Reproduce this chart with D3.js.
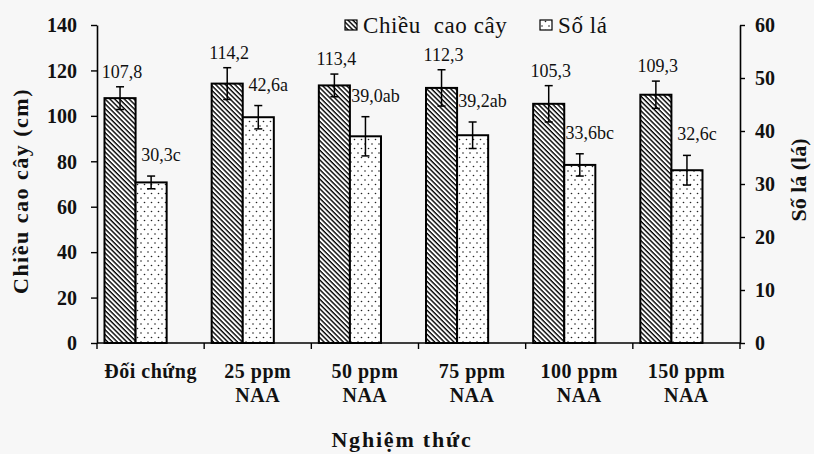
<!DOCTYPE html>
<html>
<head>
<meta charset="utf-8">
<script src="https://cdn.jsdelivr.net/npm/d3@7"></script>
<style>
  body { margin: 0; background: #f7f7f7; }
  svg { display: block; }
</style>
</head>
<body>
<div id="chart"></div>
<script>
// Categories (treatments), two lines each
const categories = ["Đối chứng", "25 ppm NAA", "50 ppm NAA", "75 ppm NAA", "100 ppm NAA", "150 ppm NAA"];
const categoryLines = [["Đối chứng"], ["25 ppm", "NAA"], ["50 ppm", "NAA"], ["75 ppm", "NAA"], ["100 ppm", "NAA"], ["150 ppm", "NAA"]];

// Plant height (cm) - left axis
const heightValues = [107.8, 114.2, 113.4, 112.3, 105.3, 109.3];
const heightErrors = [5, 7, 5, 8, 8, 6];

// Leaf count - right axis
const leafValues = [30.3, 42.6, 39.0, 39.2, 33.6, 32.6];
const leafErrors = [1.2, 2.2, 3.7, 2.5, 2.1, 2.8];
const leafLetters = ["c", "a", "ab", "ab", "bc", "c"];

const seriesNames = ["Chiều  cao cây", "Số lá"];
const leftTicks = [0, 20, 40, 60, 80, 100, 120, 140];
const rightTicks = [0, 10, 20, 30, 40, 50, 60];

const W = 814, H = 454;
const margin = {top: 25, right: 74, bottom: 111, left: 97};
const width = W - margin.left - margin.right;
const height = H - margin.top - margin.bottom;
const FONT = "Liberation Serif";

const fmt = v => v.toFixed(1).replace(".", ",");

const svg = d3.select("#chart").append("svg")
  .attr("width", W)
  .attr("height", H)
  .attr("font-family", FONT);

svg.append("rect").attr("width", W).attr("height", H).attr("fill", "#f7f7f7");

// patterns
const defs = svg.append("defs");
defs.append("pattern")
  .attr("id", "hatch")
  .attr("patternUnits", "userSpaceOnUse")
  .attr("width", 3.4).attr("height", 3.4)
  .attr("patternTransform", "rotate(-45)")
  .call(p => {
    p.append("rect").attr("width", 3.4).attr("height", 3.4).attr("fill", "#fff");
    p.append("line").attr("x1", 1).attr("y1", 0).attr("x2", 1).attr("y2", 3.4)
      .attr("stroke", "#000").attr("stroke-width", 1.4);
  });
defs.append("pattern")
  .attr("id", "dots")
  .attr("patternUnits", "userSpaceOnUse")
  .attr("width", 7).attr("height", 9)
  .call(p => {
    p.append("rect").attr("width", 7).attr("height", 9).attr("fill", "#fff");
    p.append("circle").attr("cx", 2).attr("cy", 2).attr("r", 0.8).attr("fill", "#222");
    p.append("circle").attr("cx", 5.5).attr("cy", 6.5).attr("r", 0.8).attr("fill", "#222");
  });

const g = svg.append("g").attr("transform", `translate(${margin.left},${margin.top})`);

// scales
const x = d3.scaleBand().domain(categories).range([0, width]).padding(0);
const inner = d3.scaleBand().domain(seriesNames)
  .range([x.bandwidth() * 0.07, x.bandwidth() * 0.65]).padding(0);
const yL = d3.scaleLinear().domain([0, 140]).range([height, 0]);
const yR = d3.scaleLinear().domain([0, 60]).range([height, 0]);

// left axis
const axL = g.append("g")
  .call(d3.axisLeft(yL).tickValues(leftTicks).tickSize(6).tickPadding(14).tickSizeOuter(0));
// right axis
const axR = g.append("g")
  .attr("transform", `translate(${width},0)`)
  .call(d3.axisRight(yR).tickValues(rightTicks).tickSize(5).tickPadding(10).tickSizeOuter(0));
[axL, axR].forEach(a => {
  a.attr("font-family", FONT);
  a.select(".domain").attr("stroke", "#000").attr("stroke-width", 1.6);
  a.selectAll(".tick line").attr("stroke", "#000").attr("stroke-width", 1.4);
  a.selectAll(".tick text")
    .attr("font-size", 20).attr("font-weight", "bold").attr("fill", "#111")
    .attr("dy", "0.34em");
});

// x axis baseline with ticks at category boundaries
g.append("line")
  .attr("x1", 0).attr("x2", width)
  .attr("y1", yL(0)).attr("y2", yL(0))
  .attr("stroke", "#000").attr("stroke-width", 1.6);
const bounds = categories.map(c => x(c)).concat([x(categories[categories.length - 1]) + x.bandwidth()]);
g.selectAll(".xtick").data(bounds).enter().append("line")
  .attr("x1", d => d).attr("x2", d => d)
  .attr("y1", yL(0)).attr("y2", yL(0) + 6)
  .attr("stroke", "#000").attr("stroke-width", 1.4);

// category labels
categories.forEach((c, i) => {
  const t = g.append("text")
    .attr("x", x(c) + x.bandwidth() / 2)
    .attr("y", yL(0) + 35)
    .attr("text-anchor", "middle")
    .attr("font-size", 20).attr("font-weight", "bold").attr("fill", "#111")
    .attr("letter-spacing", 0.5);
  categoryLines[i].forEach((line, j) => {
    t.append("tspan").attr("x", x(c) + x.bandwidth() / 2).attr("dy", j === 0 ? 0 : 24).text(line);
  });
});

// bars
const bar = (cx, w, yTop, fill) => g.append("rect")
  .attr("x", cx).attr("y", yTop).attr("width", w).attr("height", yL(0) - yTop)
  .attr("fill", fill).attr("stroke", "#000").attr("stroke-width", 2);

const errBar = (cx, yHi, yLo) => {
  g.append("line").attr("x1", cx).attr("x2", cx).attr("y1", yHi).attr("y2", yLo)
    .attr("stroke", "#000").attr("stroke-width", 1.5);
  [yHi, yLo].forEach(yy => g.append("line")
    .attr("x1", cx - 4).attr("x2", cx + 4).attr("y1", yy).attr("y2", yy)
    .attr("stroke", "#000").attr("stroke-width", 1.5));
};

categories.forEach((c, i) => {
  const bw = inner.bandwidth();
  // height
  const x0 = x(c) + inner(seriesNames[0]);
  bar(x0, bw, yL(heightValues[i]), "url(#hatch)");
  errBar(x0 + bw / 2, yL(heightValues[i] + heightErrors[i]), yL(heightValues[i] - heightErrors[i]));
  g.append("text")
    .attr("x", x0 + bw / 2 + 2)
    .attr("y", yL(heightValues[i] + heightErrors[i]) - 9)
    .attr("text-anchor", "middle")
    .attr("font-size", 18).attr("fill", "#111")
    .text(fmt(heightValues[i]));
  // leaves
  const x1 = x(c) + inner(seriesNames[1]);
  bar(x1, bw, yR(leafValues[i]), "url(#dots)");
  errBar(x1 + bw / 2, yR(leafValues[i] + leafErrors[i]), yR(leafValues[i] - leafErrors[i]));
  g.append("text")
    .attr("x", x1 + bw / 2 + 10)
    .attr("y", yR(leafValues[i] + leafErrors[i]) - 15)
    .attr("text-anchor", "middle")
    .attr("font-size", 18).attr("fill", "#111")
    .text(fmt(leafValues[i]) + leafLetters[i]);
});

// axis titles
svg.append("text")
  .attr("transform", `translate(28,${margin.top + 166}) rotate(-90)`)
  .attr("text-anchor", "middle")
  .attr("font-size", 22).attr("font-weight", "bold").attr("fill", "#111")
  .attr("letter-spacing", 1.5)
  .text("Chiều cao cây (cm)");
svg.append("text")
  .attr("transform", `translate(806,${margin.top + 155}) rotate(-90)`)
  .attr("text-anchor", "middle")
  .attr("font-size", 22).attr("font-weight", "bold").attr("fill", "#111")
  .text("Số lá (lá)");
svg.append("text")
  .attr("x", 402).attr("y", 447)
  .attr("text-anchor", "middle")
  .attr("font-size", 22).attr("font-weight", "bold").attr("fill", "#111")
  .attr("letter-spacing", 1.8)
  .text("Nghiệm thức");

// legend
const legend = svg.append("g").attr("transform", "translate(345,33)");
const legendItems = [{name: seriesNames[0], fill: "url(#hatch)", dx: 0}, {name: seriesNames[1], fill: "url(#dots)", dx: 195}];
legendItems.forEach(d => {
  const li = legend.append("g").attr("transform", `translate(${d.dx},0)`);
  li.append("rect").attr("x", 0).attr("y", -13).attr("width", 12).attr("height", 10)
    .attr("fill", d.fill).attr("stroke", "#000").attr("stroke-width", 1.2);
  li.append("text").attr("x", 18).attr("y", 0)
    .attr("font-size", 23).attr("fill", "#111")
    .attr("letter-spacing", 0.6)
    .attr("xml:space", "preserve")
    .text(d.name);
});

// serif on every text element
svg.selectAll("text, tspan").attr("font-family", FONT);
</script>
</body>
</html>
